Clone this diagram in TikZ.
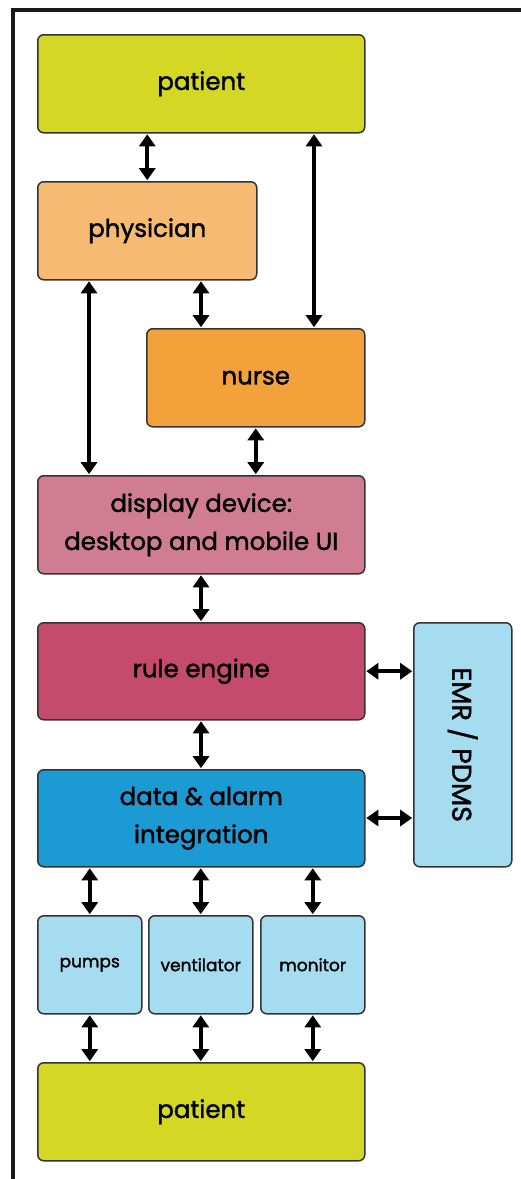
\documentclass[tikz,border=0pt]{standalone}
\usepackage{fontspec}
\setmainfont{Poppins}[FakeBold=1.6]
\usetikzlibrary{arrows.meta,calc}
\definecolor{lime}{HTML}{D4D824}
\definecolor{physc}{HTML}{F7BA72}
\definecolor{nursec}{HTML}{F3A23B}
\definecolor{dispc}{HTML}{D07D93}
\definecolor{rulec}{HTML}{C44A6E}
\definecolor{datac}{HTML}{1B9AD4}
\definecolor{lblue}{HTML}{A6DCF0}
\definecolor{edge}{HTML}{333333}
\tikzset{
  box/.style={draw=edge, line width=1.5pt, rounded corners=6pt, inner sep=0pt, anchor=north west, align=center, font=\fontsize{24.5}{38}\selectfont},
  small/.style={box, font=\fontsize{17}{20}\selectfont},
  biarrow/.style={line width=4pt, {Triangle[width=16pt,length=12pt]}-{Triangle[width=16pt,length=12pt]}, shorten >=0.8pt, shorten <=0.8pt},
}
\begin{document}
\begin{tikzpicture}[x=1pt,y=-1pt]
\useasboundingbox (0,0) rectangle (521,1179);
\draw[line width=3.5pt, color=black!90] (13,1179) -- (13,10) -- (521,10);
% nodes
\node[box, fill=lime, minimum width=327pt, minimum height=98pt] (pat1) at (37,34) {patient};
\node[box, fill=physc, minimum width=219pt, minimum height=98pt] (phys) at (37,181) {physician};
\node[box, fill=nursec, minimum width=218pt, minimum height=98pt] (nurse) at (146,328) {nurse};
\node[box, fill=dispc, minimum width=327pt, minimum height=98pt] (disp) at (37,475) {display device:\\desktop and mobile UI};
\node[box, fill=rulec, minimum width=327pt, minimum height=97pt] (rule) at (37,622) {rule engine};
\node[box, fill=datac, minimum width=327pt, minimum height=97pt] (data) at (37,769) {data \& alarm\\integration};
\node[box, fill=lblue, minimum width=98pt, minimum height=244pt] (emr) at (413,622) {};
\node[font=\fontsize{27}{30}\selectfont, rotate=-90] (emrtxt) at (emr.center) {EMR / PDMS};
\node[small, fill=lblue, minimum width=104pt, minimum height=98pt] (pumps) at (37,915) {pumps};
\node[small, fill=lblue, minimum width=104pt, minimum height=98pt] (vent) at (148,915) {ventilator};
\node[small, fill=lblue, minimum width=104pt, minimum height=98pt] (mon) at (260,915) {monitor};
\node[box, fill=lime, minimum width=327pt, minimum height=98pt] (pat2) at (37,1062) {patient};
% x positions
\coordinate (xN) at (314,0);
\coordinate (xL) at (89,0);
\coordinate (xM) at (201,0);
% connectors
\draw[biarrow] (pat1.south -| phys.north) -- (phys.north);
\draw[biarrow] (pat1.south -| xN) -- (nurse.north -| xN);
\draw[biarrow] (phys.south -| xL) -- (disp.north -| xL);
\draw[biarrow] (phys.south -| xM) -- (nurse.north -| xM);
\draw[biarrow] (nurse.south) -- (disp.north -| nurse.south);
\draw[biarrow] (disp.south -| xM) -- (rule.north -| xM);
\draw[biarrow] (rule.south -| xM) -- (data.north -| xM);
\draw[biarrow] (rule.east) -- (emr.west |- rule.east);
\draw[biarrow] (data.east |- 0,818) -- (emr.west |- 0,818);
\draw[biarrow] (data.south -| pumps.north) -- (pumps.north);
\draw[biarrow] (data.south -| vent.north) -- (vent.north);
\draw[biarrow] (data.south -| mon.north) -- (mon.north);
\draw[biarrow] (pumps.south) -- (pat2.north -| pumps.south);
\draw[biarrow] (vent.south) -- (pat2.north -| vent.south);
\draw[biarrow] (mon.south) -- (pat2.north -| mon.south);
\end{tikzpicture}
\end{document}
